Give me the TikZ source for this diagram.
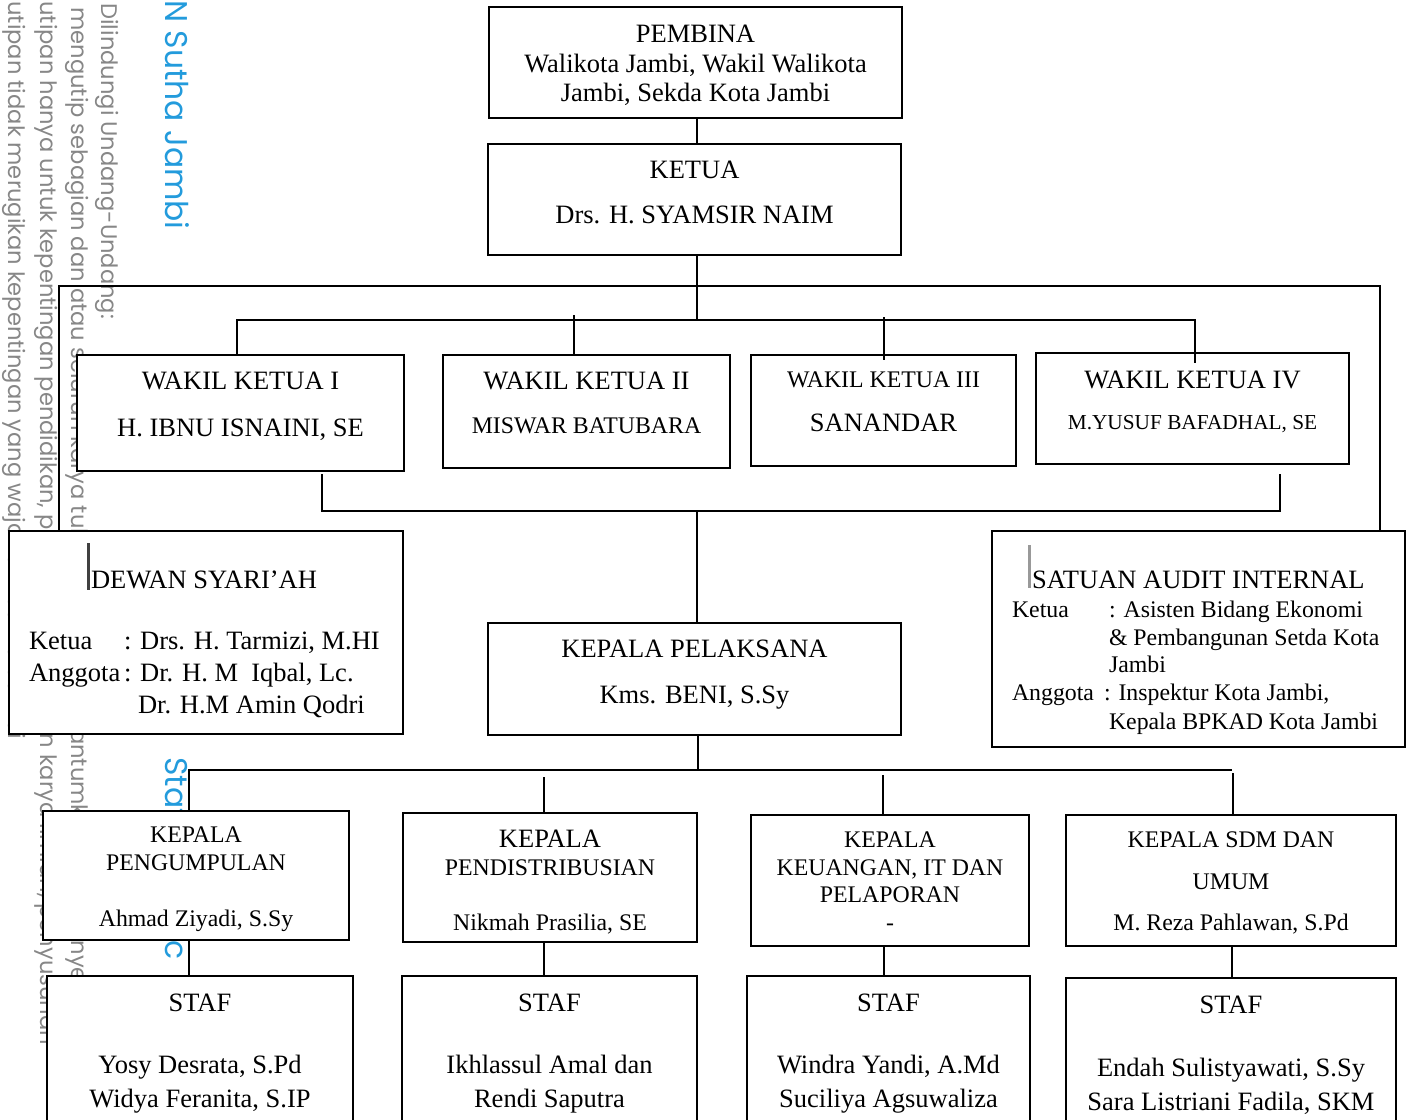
\documentclass[tikz,border=0pt]{standalone}
\usepackage{fontspec}
\setmainfont{Liberation Serif}
\newfontfamily\wmfont{Poppins}
\usepackage{tikz}

\definecolor{wmgray}{RGB}{135,135,135}
\definecolor{wmblue}{RGB}{35,155,220}

\newdimen\px \px=0.5pt
% font sizes of the chart
\newcommand{\fL}{\fontsize{13.25pt}{15pt}\selectfont}
\newcommand{\fM}{\fontsize{11.9pt}{14pt}\selectfont}
\newcommand{\fS}{\fontsize{10.65pt}{13pt}\selectfont}
% box text: width, height, lines (gap to baseline, ...)
\newcommand{\obox}[3]{\vbox to #2\px{\hsize=#1\px\offinterlineskip #3\vss}}
\newcommand{\cln}[3]{\vskip#1\px\hbox to\hsize{\hss\smash{#2#3}\hss}}
\newcommand{\lln}[4]{\vskip#1\px\hbox to\hsize{\hskip#2\px\smash{#3#4}\hss}}

\tikzset{
  orgbox/.style={draw, line width=0.8pt, fill=white, inner sep=0pt, outer sep=0pt},
  conn/.style={line width=1pt},
  wm/.style={font=\wmfont\fontsize{11.3pt}{13pt}\selectfont, text=wmgray, rotate=-90, anchor=base west, inner sep=0pt},
  wmb/.style={font=\wmfont\fontsize{15.7pt}{17pt}\selectfont, text=wmblue, rotate=-90, inner sep=0pt}
}

\begin{document}
\begin{tikzpicture}[x=0.5pt, y=-0.5pt]
\useasboundingbox (0,0) rectangle (1411,1119);
\clip (0,0) rectangle (1411,1119);

% watermark
\node[wm] (wm1) at (101,3) {Dilindungi Undang-Undang:};
\node[wm] (wm2) at (71,7) {mengutip sebagian dan atau seluruh karya tulis ini tanpa mencantumkan dan menyebutkan};
\node[wm] (wm3) at (40,1) {utipan hanya untuk kepentingan pendidikan, penelitian, penulisan karya ilmiah, penyusunan};
\node[wm] (wm4) at (9,1) {utipan tidak merugikan kepentingan yang wajar UIN Sutha Jambi};
\node[wmb, anchor=base east] (wm5) at (165,230) {N Sutha Jambi};
\node[wmb, anchor=base west] (wm6) at (165,757) {State Islamic};

% boxes
\node[orgbox] (pembina) at (695.5,62.5) {\obox{413}{111}{%
  \cln{35}{\fL}{PEMBINA}
  \cln{30}{\fL}{Walikota Jambi, Wakil Walikota}
  \cln{29}{\fL}{Jambi, Sekda Kota Jambi}}};
\node[orgbox] (ketua) at (694.5,199.5) {\obox{413}{111}{%
  \cln{34}{\fL}{KETUA}
  \cln{45}{\fL}{Drs. H. SYAMSIR NAIM}}};

\node[orgbox] (wk1) at (240.5,413) {\obox{327}{116}{%
  \cln{34}{\fL}{WAKIL KETUA I}
  \cln{47}{\fL}{H. IBNU ISNAINI, SE}}};
\node[orgbox] (wk2) at (586.5,411.5) {\obox{287}{113}{%
  \cln{34}{\fL}{WAKIL KETUA II}
  \cln{44}{\fM}{MISWAR BATUBARA}}};
\node[orgbox] (wk3) at (883.5,410.5) {\obox{265}{111}{%
  \cln{32}{\fM}{WAKIL KETUA III}
  \cln{44}{\fL}{SANANDAR}}};
\node[orgbox] (wk4) at (1192.5,408.5) {\obox{313}{111}{%
  \cln{35}{\fL}{WAKIL KETUA IV}
  \cln{41}{\fS}{M.YUSUF BAFADHAL, SE}}};

\node[orgbox] (dewan) at (206,632.5) {\obox{394}{203}{%
  \lln{57}{82}{\fL}{DEWAN SYARI’AH}
  \lln{61}{20}{\fL}{\makebox[95\px][l]{Ketua}: Drs. H. Tarmizi, M.HI}
  \lln{32}{20}{\fL}{\makebox[95\px][l]{Anggota}: Dr. H. M\ \ Iqbal, Lc.}
  \lln{32}{129}{\fL}{Dr. H.M Amin Qodri}}};
\node[orgbox] (kp) at (694.5,679) {\obox{413}{112}{%
  \cln{34}{\fL}{KEPALA PELAKSANA}
  \cln{46}{\fL}{Kms. BENI, S.Sy}}};
\node[orgbox] (sai) at (1198.5,639) {\obox{413}{216}{%
  \lln{57}{40}{\fL}{SATUAN AUDIT INTERNAL}
  \lln{29}{20}{\fM}{\makebox[97\px][l]{Ketua}: Asisten Bidang Ekonomi}
  \lln{28}{117}{\fM}{\& Pembangunan Setda Kota}
  \lln{27}{117}{\fM}{Jambi}
  \lln{28}{20}{\fM}{\makebox[92\px][l]{Anggota}: Inspektur Kota Jambi,}
  \lln{29}{117}{\fM}{Kepala BPKAD Kota Jambi}}};

\node[orgbox] (kp1) at (196,875.5) {\obox{306}{129}{%
  \cln{31}{\fM}{KEPALA}
  \cln{28}{\fM}{PENGUMPULAN}
  \cln{56}{\fM}{Ahmad Ziyadi, S.Sy}}};
\node[orgbox] (kp2) at (550,877.5) {\obox{294}{129}{%
  \cln{34}{\fL}{KEPALA}
  \cln{28}{\fM}{PENDISTRIBUSIAN}
  \cln{55}{\fM}{Nikmah Prasilia, SE}}};
\node[orgbox] (kp3) at (890,880.5) {\obox{278}{131}{%
  \cln{32}{\fM}{KEPALA}
  \cln{28}{\fM}{KEUANGAN, IT DAN}
  \cln{27}{\fM}{PELAPORAN}
  \cln{28}{\fM}{-}}};
\node[orgbox] (kp4) at (1231,880.5) {\obox{330}{131}{%
  \cln{32}{\fM}{KEPALA SDM DAN}
  \cln{42}{\fM}{UMUM}
  \cln{41}{\fM}{M. Reza Pahlawan, S.Pd}}};

\node[orgbox] (s1) at (200,1058) {\obox{306}{164}{%
  \cln{35}{\fL}{STAF}
  \cln{62}{\fL}{Yosy Desrata, S.Pd}
  \cln{34}{\fL}{Widya Feranita, S.IP}}};
\node[orgbox] (s2) at (549.5,1058) {\obox{295}{164}{%
  \cln{35}{\fL}{STAF}
  \cln{62}{\fL}{Ikhlassul Amal dan}
  \cln{34}{\fL}{Rendi Saputra}}};
\node[orgbox] (s3) at (888.5,1058) {\obox{283}{164}{%
  \cln{35}{\fL}{STAF}
  \cln{62}{\fL}{Windra Yandi, A.Md}
  \cln{34}{\fL}{Suciliya Agsuwaliza}}};
\node[orgbox] (s4) at (1231,1060) {\obox{330}{164}{%
  \cln{35}{\fL}{STAF}
  \cln{63}{\fL}{Endah Sulistyawati, S.Sy}
  \cln{34}{\fL}{Sara Listriani Fadila, SKM}}};

% bus points
\coordinate (spine) at (697,0);
\coordinate (obusL) at (59,286);
\coordinate (obusR) at (1380,286);
\coordinate (wbusL) at (237,320);
\coordinate (wbusR) at (1195,320);
\coordinate (w2) at (574,315);
\coordinate (w3) at (884,317);
\coordinate (w3e) at (884,360);
\coordinate (w4e) at (1195,363);
\coordinate (l1) at (322,474);
\coordinate (l4) at (1280,474);
\coordinate (lbusL) at (322,511);
\coordinate (lbusR) at (1280,511);
\coordinate (kbusM) at (698,770);
\coordinate (kbusL) at (189,770);
\coordinate (kbusR) at (1232,770);
\coordinate (k2) at (544,777);
\coordinate (k3) at (883,775);
\coordinate (k4) at (1233,773);

% connectors
\draw[conn] (pembina.south -| spine) -- (ketua.north -| spine);
\draw[conn] (ketua.south -| spine) -- (spine |- wbusL);
\draw[conn, line width=1.3pt] (dewan.north -| obusL) -- (obusL) -- (obusR) -- (sai.north -| obusR);
\draw[conn] (wk1.north -| wbusL) -- (wbusL) -- (wbusR) -- (w4e);
\draw[conn] (w2) -- (wk2.north -| w2);
\draw[conn] (w3) -- (w3e);
\draw[conn] (l1) -- (lbusL) -- (lbusR) -- (l4);
\draw[conn] (spine |- lbusL) -- (kp.north -| spine);
\draw[conn] (kp.south -| kbusM) -- (kbusM);
\draw[conn] (kp1.north -| kbusL) -- (kbusL) -- (kbusR);
\draw[conn] (k2) -- (kp2.north -| k2);
\draw[conn] (k3) -- (kp3.north -| k3);
\draw[conn] (k4) -- (kp4.north -| k4);
\draw[conn] (kp1.south -| kbusL) -- (s1.north -| kbusL);
\draw[conn] (kp2.south -| k2) -- (s2.north -| k2);
\draw[conn] (kp3.south -| w3) -- (s3.north -| w3);
\draw[conn] (kp4.south -| kbusR) -- (s4.north -| kbusR);

% cursor marks
\draw[line width=1.5pt, black!75] (88,543) -- (88,590);
\draw[line width=1.5pt, black!40] (1029,545) -- (1029,588);
\end{tikzpicture}
\end{document}
